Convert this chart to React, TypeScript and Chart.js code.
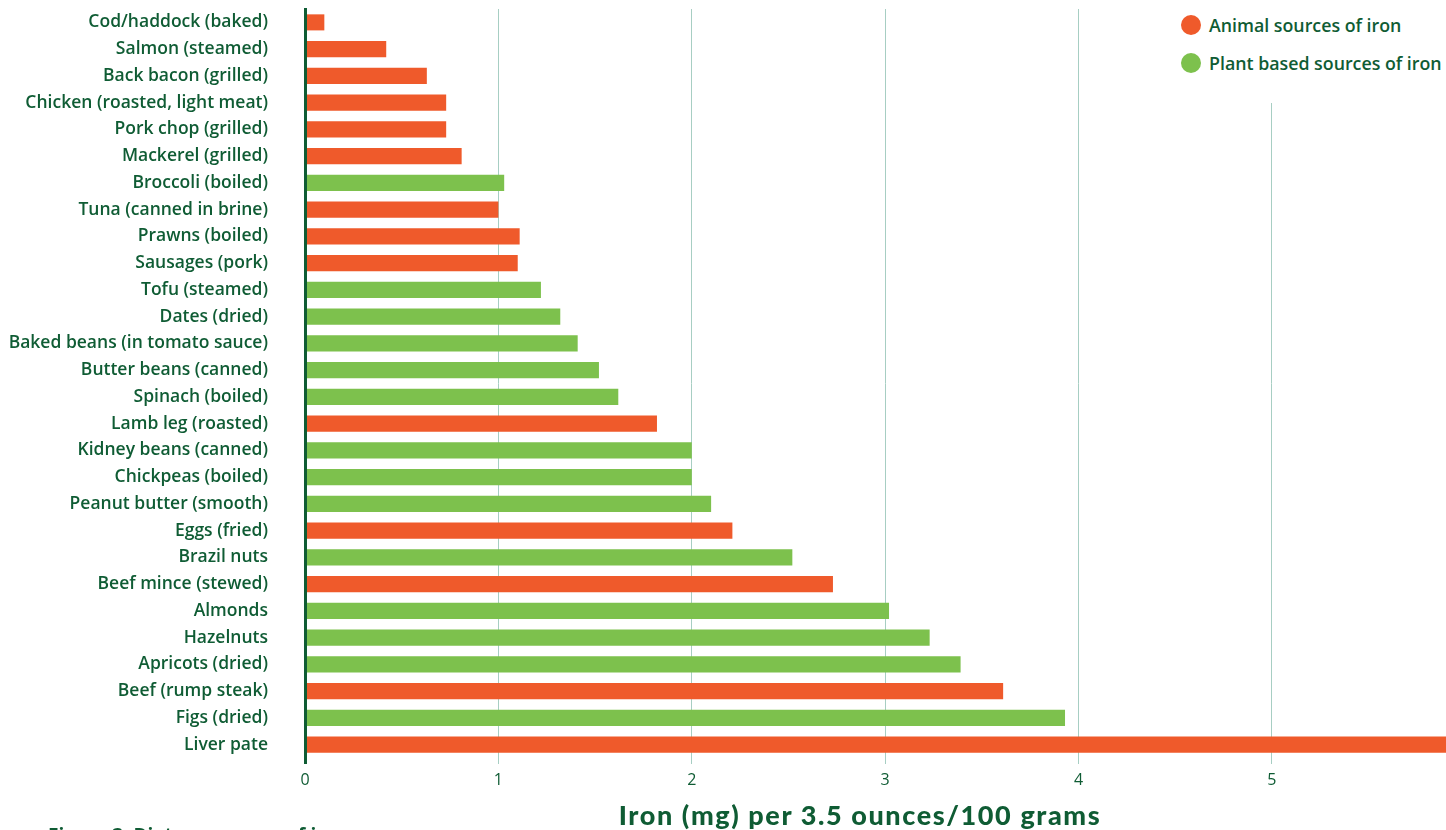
import React, { useEffect, useRef } from "react";
import { Chart, registerables } from "chart.js";

Chart.register(...registerables);

const categories: string[] = [
  "Cod/haddock (baked)",
  "Salmon (steamed)",
  "Back bacon (grilled)",
  "Chicken (roasted, light meat)",
  "Pork chop (grilled)",
  "Mackerel (grilled)",
  "Broccoli (boiled)",
  "Tuna (canned in brine)",
  "Prawns (boiled)",
  "Sausages (pork)",
  "Tofu (steamed)",
  "Dates (dried)",
  "Baked beans (in tomato sauce)",
  "Butter beans (canned)",
  "Spinach (boiled)",
  "Lamb leg (roasted)",
  "Kidney beans (canned)",
  "Chickpeas (boiled)",
  "Peanut butter (smooth)",
  "Eggs (fried)",
  "Brazil nuts",
  "Beef mince (stewed)",
  "Almonds",
  "Hazelnuts",
  "Apricots (dried)",
  "Beef (rump steak)",
  "Figs (dried)",
  "Liver pate",
];

const ironValues: number[] = [
  0.1, 0.42, 0.63, 0.73, 0.73, 0.81, 1.03, 1.0, 1.11, 1.1, 1.22, 1.32, 1.41,
  1.52, 1.62, 1.82, 2.0, 2.0, 2.1, 2.21, 2.52, 2.73, 3.02, 3.23, 3.39, 3.61,
  3.93, 5.9,
];

// "a" = animal source, "p" = plant based source
const sources: string[] = [
  "a", "a", "a", "a", "a", "a", "p", "a", "a", "a", "p", "p", "p", "p",
  "p", "a", "p", "p", "p", "a", "p", "a", "p", "p", "p", "a", "p", "a",
];

const legendLabels: string[] = ["Animal sources of iron", "Plant based sources of iron"];
const legendKeys: string[] = ["a", "p"];
const tickValues: number[] = [0, 1, 2, 3, 4, 5];
const axisMax = 5.9;
const axisTitle = "Iron (mg) per 3.5 ounces/100 grams";
const caption = "Figure 3: Dietary sources of iron";

const ORANGE = "#EF5A2B";
const GREEN = "#7DC14D";
const DARK = "#0F5C34";
const GRIDC = "#A7CEC3";
const colorFor = (k: string) => (k === "a" ? ORANGE : GREEN);

export default function App() {
  const canvasRef = useRef<HTMLCanvasElement | null>(null);

  useEffect(() => {
    if (!canvasRef.current) return;
    const chart = new Chart(canvasRef.current, {
      type: "bar",
      data: {
        labels: categories,
        datasets: [
          {
            label: "Iron",
            data: ironValues,
            backgroundColor: sources.map(colorFor),
            borderWidth: 0,
            barPercentage: 0.6,
            categoryPercentage: 1,
          },
        ],
      },
      options: {
        indexAxis: "y",
        animation: false,
        responsive: true,
        maintainAspectRatio: false,
        layout: { padding: { top: 9, right: 0, bottom: 0, left: 0 } },
        plugins: {
          legend: { display: false },
          tooltip: { enabled: false },
        },
        scales: {
          x: {
            type: "linear",
            position: "bottom",
            min: 0,
            max: axisMax,
            afterBuildTicks: (s: any) => {
              s.ticks = tickValues.map((v) => ({ value: v }));
            },
            afterFit: (s: any) => {
              s.height = 72;
              s.paddingLeft = 0;
              s.paddingRight = 0;
            },
            grid: {
              color: (c: any) => (c.tick && c.tick.value === 0 ? DARK : GRIDC),
              lineWidth: (c: any) => (c.tick && c.tick.value === 0 ? 3 : 1),
              drawTicks: true,
              tickLength: 6,
            },
            border: { display: false },
            ticks: {
              color: DARK,
              font: { family: "'Open Sans', sans-serif", size: 16 },
              padding: 7,
              maxRotation: 0,
            },
          },
          y: {
            type: "category",
            afterFit: (s: any) => {
              s.width = 305;
              s.paddingTop = 0;
              s.paddingBottom = 0;
            },
            grid: { display: false, drawTicks: false },
            border: { display: true, color: DARK, width: 3, z: 1 },
            ticks: {
              color: DARK,
              autoSkip: false,
              padding: 37,
              font: { family: "'Open Sans', sans-serif", size: 17.5, weight: "600" },
            },
          },
        },
      } as any,
    });
    return () => chart.destroy();
  }, []);

  return (
    <div
      style={{
        position: "absolute",
        left: 0,
        top: 0,
        width: 1446,
        height: 830,
        overflow: "hidden",
        background: "#ffffff",
        fontFamily: "'Open Sans', sans-serif",
      }}
    >
      <canvas ref={canvasRef} style={{ display: "block" }} />
      <div
        style={{
          position: "absolute",
          left: 1170,
          top: 0,
          width: 276,
          height: 103,
          background: "#ffffff",
        }}
      >
        {legendLabels.map((lab, i) => (
          <div
            key={lab}
            style={{
              position: "absolute",
              left: 11,
              top: 13 + i * 38,
              height: 24,
              display: "flex",
              alignItems: "center",
              whiteSpace: "nowrap",
            }}
          >
            <span
              style={{
                display: "inline-block",
                width: 20,
                height: 20,
                borderRadius: 10,
                background: colorFor(legendKeys[i]),
                marginRight: 8,
              }}
            />
            <span style={{ color: DARK, fontSize: 17.8, fontWeight: 600 }}>{lab}</span>
          </div>
        ))}
      </div>
      <div
        style={{
          position: "absolute",
          left: 460,
          width: 800,
          top: 800,
          textAlign: "center",
          color: DARK,
          fontFamily: "Lato, sans-serif",
          fontWeight: 900,
          fontSize: 27,
          letterSpacing: "1.6px",
          lineHeight: "30px",
          whiteSpace: "nowrap",
        }}
      >
        {axisTitle}
      </div>
      <div
        style={{
          position: "absolute",
          left: 48,
          top: 822,
          color: DARK,
          fontWeight: 700,
          fontSize: 19,
          lineHeight: "26px",
          whiteSpace: "nowrap",
        }}
      >
        {caption}
      </div>
    </div>
  );
}
